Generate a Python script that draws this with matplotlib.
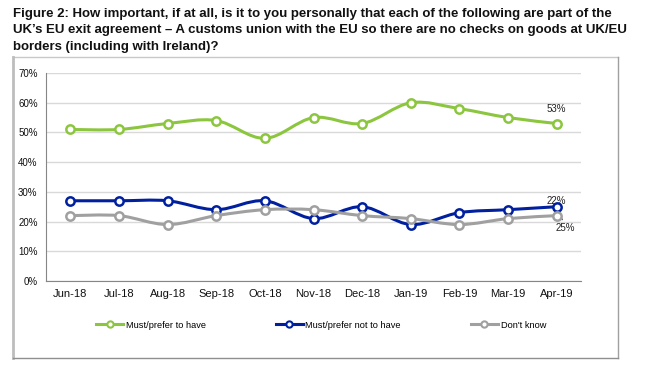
import numpy as np
import matplotlib
matplotlib.use('Agg')
import matplotlib.pyplot as plt
from matplotlib.path import Path
from matplotlib.patches import PathPatch
from matplotlib.lines import Line2D

months = ['Jun-18', 'Jul-18', 'Aug-18', 'Sep-18', 'Oct-18', 'Nov-18',
          'Dec-18', 'Jan-19', 'Feb-19', 'Mar-19', 'Apr-19']
must_have = [51, 51, 53, 54, 48, 55, 53, 60, 58, 55, 53]
must_not_have = [27, 27, 27, 24, 27, 21, 25, 19, 23, 24, 25]
dont_know = [22, 22, 19, 22, 24, 24, 22, 21, 19, 21, 22]
y_ticks = [0, 10, 20, 30, 40, 50, 60, 70]
title_lines = [
    "Figure 2: How important, if at all, is it to you personally that each of the following are part of the",
    "UK\u2019s EU exit agreement \u2013 A customs union with the EU so there are no checks on goods at UK/EU",
    "borders (including with Ireland)?",
]

GREEN = '#8cc63f'
BLUE = '#00209f'
GREY = '#a0a0a0'

plt.rcParams['font.family'] = ['Liberation Sans', 'DejaVu Sans']

W, H = 646, 370


def smooth_path(xs, ys):
    # excel-style smoothed line as bezier segments through the data points
    pts = np.column_stack([xs, ys]).astype(float)
    n = len(pts)
    verts = [pts[0]]
    codes = [Path.MOVETO]
    for i in range(n - 1):
        p0 = pts[i - 1] if i > 0 else pts[i]
        p1 = pts[i]
        p2 = pts[i + 1]
        p3 = pts[i + 2] if i + 2 < n else pts[i + 1]
        verts += [p1 + (p2 - p0) / 6, p2 - (p3 - p1) / 6, p2]
        codes += [Path.CURVE4] * 3
    return Path(verts, codes)


def px(xp, yp):
    return xp / W, 1 - yp / H


fig = plt.figure(figsize=(6.46, 3.70), dpi=100)
fig.patch.set_facecolor('white')

# outer chart frame (light top/left, darker right/bottom)
frame = [((13, 57), (618, 57), '#c8c8c8', 1.0),
         ((13, 57), (13, 358), '#bdbdbd', 2.0),
         ((618, 57), (618, 358), '#a0a0a0', 1.0),
         ((13, 358), (618, 358), '#8f8f8f', 1.0)]
for (x0, y0), (x1, y1), c, lw in frame:
    fig.add_artist(Line2D([x0 / W, x1 / W], [1 - y0 / H, 1 - y1 / H],
                          transform=fig.transFigure, color=c, linewidth=lw))

# title, one text per line, fitted to the reference width
baselines = [16.7, 33.3, 50.0]
titles = [fig.text(*px(13, b), line, ha='left', va='baseline', fontsize=10,
                   fontweight='bold', color='#111111')
          for line, b in zip(title_lines, baselines)]
fig.canvas.draw()
w = titles[1].get_window_extent().width
for t in titles:
    t.set_fontsize(10 * 621 / w)

ax = fig.add_axes([46 / W, 1 - 281 / H, 535 / W, 208 / H])
x = np.arange(len(months))

series = [(must_have, GREEN, 'Must/prefer to have'),
          (must_not_have, BLUE, 'Must/prefer not to have'),
          (dont_know, GREY, "Don't know")]
for vals, col, lab in series:
    ax.add_patch(PathPatch(smooth_path(x, vals), fill=False, edgecolor=col,
                           linewidth=2.2, zorder=3))
    ax.plot(x, vals, linestyle='none', marker='o', markersize=6,
            markerfacecolor='white', markeredgecolor=col, markeredgewidth=1.8, zorder=4)

ax.set_xlim(-0.5, len(months) - 0.5)
ax.set_ylim(0, 70)
ax.set_yticks(y_ticks)
ax.set_yticklabels([f'{v}%' for v in y_ticks], fontsize=7)
ax.set_xticks(x)
ax.set_xticklabels(months, fontsize=8)
ax.tick_params(length=0, colors='#111111')
ax.tick_params(axis='x', pad=5.5)
ax.tick_params(axis='y', pad=6)
ax.grid(axis='y', color='#d9d9d9', linewidth=1)
ax.set_axisbelow(True)
for s in ['top', 'right']:
    ax.spines[s].set_visible(False)
for s in ['left', 'bottom']:
    ax.spines[s].set_color('#868686')

lbl_font = dict(fontsize=7, color='#222222', va='center', ha='center',
                textcoords='offset points')
ax.annotate(f'{must_have[-1]}%', (x[-1], must_have[-1]), xytext=(0, 10.8), **lbl_font)
ax.annotate(f'{dont_know[-1]}%', (x[-1], must_not_have[-1]), xytext=(0, 4), **lbl_font)
ax.annotate(f'{must_not_have[-1]}%', (x[-1], must_not_have[-1]), xytext=(6.5, -15),
            arrowprops=dict(arrowstyle='-', color='#222222', lw=0.7,
                            shrinkA=0, shrinkB=3), **lbl_font)

handles = [Line2D([], [], color=col, linewidth=2.2, marker='o', markersize=4.5,
                  markerfacecolor='white', markeredgecolor=col, markeredgewidth=1.5)
           for _, col, _ in series]
fig.legend(handles, [lab for _, _, lab in series], loc='center',
           bbox_to_anchor=px(321, 325), ncol=3, frameon=False,
           fontsize=6.7, handlelength=2.9, handletextpad=0.3, columnspacing=7.5)

fig.savefig('out.png', dpi=100)
